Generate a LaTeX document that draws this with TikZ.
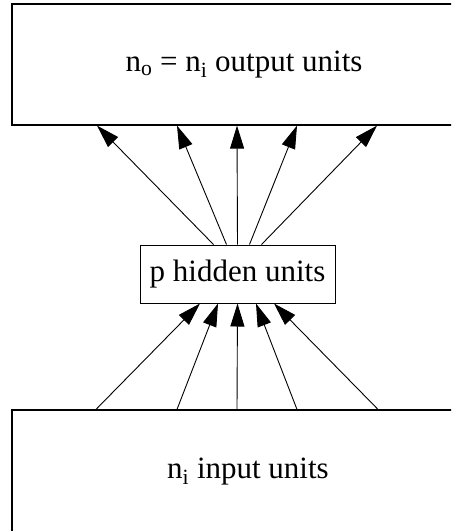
\documentclass[tikz,border=0pt]{standalone}
\usepackage{fontspec}
\setmainfont{Liberation Serif}
\usetikzlibrary{arrows.meta}
\tikzset{
  layer/.style={
    rectangle,
    draw,
    line width=1.2pt,
    align=center,
    minimum width=464pt,
    minimum height=121pt,
    font=\fontsize{31}{36}\selectfont
  },
  hiddenbox/.style={
    rectangle,
    draw,
    line width=1pt,
    align=center,
    minimum width=195pt,
    minimum height=58pt,
    inner sep=0pt,
    font=\fontsize{31}{36}\selectfont
  },
  arrow/.style={-{Triangle[length=23pt,width=14pt]}, line width=0.9pt}
}

\begin{document}
\begin{tikzpicture}[x=1pt,y=1pt]
\useasboundingbox (0,0) rectangle (451,-531);
\clip (0,0) rectangle (451,-531);
\node[layer] (output) at (244,-64.5) {n\textsubscript{o} = n\textsubscript{i} output units};
\node[hiddenbox] (hidden) at (237.5,-274) {p hidden units};
\node[layer, minimum width=472pt, minimum height=124pt] (input) at (248,-472) {n\textsubscript{i} input units};

\draw[arrow] ([xshift=-24pt]hidden.north) -- ([xshift=-147pt]output.south);
\draw[arrow] ([xshift=-11pt]hidden.north) -- ([xshift=-67pt]output.south);
\draw[arrow] (hidden.north) -- ([xshift=-7pt]output.south);
\draw[arrow] ([xshift=12pt]hidden.north) -- ([xshift=53pt]output.south);
\draw[arrow] ([xshift=24pt]hidden.north) -- ([xshift=133pt]output.south);

\draw[arrow] ([xshift=-152pt]input.north) -- ([xshift=-37.5pt]hidden.south);
\draw[arrow] ([xshift=-71pt]input.north) -- ([xshift=-19.5pt]hidden.south);
\draw[arrow] ([xshift=-11pt]input.north) -- (hidden.south);
\draw[arrow] ([xshift=49pt]input.north) -- ([xshift=18.5pt]hidden.south);
\draw[arrow] ([xshift=130pt]input.north) -- ([xshift=36.5pt]hidden.south);
\end{tikzpicture}
\end{document}
